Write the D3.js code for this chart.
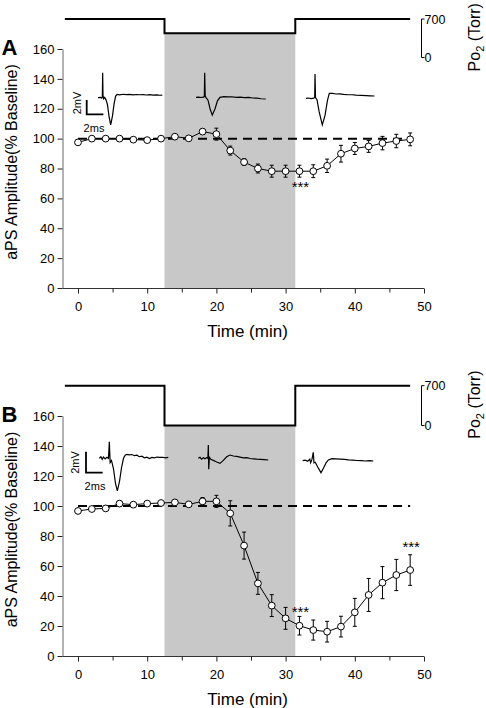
<!DOCTYPE html>
<html><head><meta charset="utf-8">
<script src="https://cdn.jsdelivr.net/npm/d3@7"></script>
<style>
body{margin:0;background:#fff}
svg{display:block}
text{font-family:"Liberation Sans",Arial,Helvetica,sans-serif;fill:#000}
</style>
</head><body>
<svg id="chart" width="486" height="708"></svg>
<script>
// ---------- data ----------
const times = [0,2,4,6,8,10,12,14,16,18,20,22,24,26,28,30,32,34,36,38,40,42,44,46,48];
const ampA  = [97.5,100,100,100,99.3,99,100,101.3,100.2,104.7,103,92,84.3,80,78.2,78.2,78.2,78.2,81.8,89.9,93.4,94.8,97,98.4,99.5];
const errA  = [1,1,1,1,1,1,1,1,1,1.5,4,3,2.2,3,4,4,4,4.3,4.5,5.6,4,4,4.5,4.5,4.3];
const ampB  = [96.7,98,98.4,101.6,100.9,101.6,102,102.4,101.1,103.1,103.1,95.1,73.6,48.4,33.6,25.1,20.2,17.3,16.2,19.6,29.1,40.7,48.9,54,57.3];
const errB  = [1,1,1,1,1,1,1,1,1,2.5,4,8.4,9,7.3,7.3,7.3,6.2,6.7,6.9,6.9,9.3,11,10.7,10.4,10.2];
const xTicks = [0,10,20,30,40,50];
const xMinorTicks = [5,15,25,35,45];
const yTicks = [0,20,40,60,80,100,120,140,160];
const po2Ticks = [0,700];
const hypoxia = [12.5,31.4];
const po2A = [[-1.9,700],[12.5,440],[31.4,700],[48,700]];
const po2B = [[-1.9,700],[12.5,0],[31.4,700],[48,700]];
const baselineLine = [[0,100],[48,100]];
const sigA = [32];
const sigB = [32,48];
// example field-potential traces: [ms, mV]
const traceA1 = [[0,0],[0.3,0.05],[0.45,-0.05],[0.52,0.1],[0.56,3.5],[0.6,0.3],[0.68,-0.15],[0.8,0.05],[0.96,-0.3],[1.14,-1.0],[1.32,-2.6],[1.52,-3.8],[1.74,-2.5],[1.92,-0.9],[2.1,0.2],[2.28,0.45],[2.6,0.4],[3.0,0.48],[3.4,0.42],[3.8,0.46],[4.2,0.4],[4.6,0.45],[5.0,0.41],[5.4,0.44],[5.8,0.38],[6.2,0.42],[6.6,0.36],[7.0,0.4],[7.4,0.34],[7.7,0.37]];
const traceA2 = [[0,0],[0.3,0.03],[0.6,-0.03],[0.9,0.02],[1.0,0.1],[1.04,3.44],[1.1,0.2],[1.2,-0.05],[1.44,-0.4],[1.68,-1.6],[1.95,-2.5],[2.28,-1.6],[2.57,-0.5],[2.87,0.0],[3.35,0.1],[3.8,0.05],[4.3,0.08],[4.8,0.0],[5.3,0.03],[5.8,-0.05],[6.3,-0.02],[6.8,-0.1],[7.3,-0.12],[7.8,-0.2],[8.35,-0.24]];
const traceA3 = [[0,0],[0.3,0.04],[0.6,-0.04],[0.9,0.02],[1.04,0.1],[1.08,3.4],[1.14,0.1],[1.32,-0.2],[1.56,-1.8],[1.95,-3.73],[2.28,-2.4],[2.57,-0.3],[2.79,0.7],[3.2,0.68],[3.6,0.6],[4.0,0.62],[4.5,0.55],[5.0,0.5],[5.5,0.5],[6.0,0.45],[6.6,0.42],[7.2,0.38],[7.7,0.35],[8.2,0.32]];
const traceB1 = [[0,0],[0.2,0.15],[0.35,-0.1],[0.5,0.12],[0.7,-0.05],[0.92,0.1],[1.1,0.0],[1.2,1.58],[1.3,-0.4],[1.46,-0.2],[1.7,-1.0],[1.94,-2.4],[2.16,-3.1],[2.42,-2.2],[2.66,-0.9],[2.9,0.0],[3.1,0.3],[3.28,0.38],[3.6,0.32],[3.9,0.36],[4.2,0.25],[4.5,0.3],[4.8,0.15],[5.1,0.2],[5.4,0.05],[5.7,0.1],[6.0,-0.02],[6.3,0.08],[6.6,0.05],[6.9,0.12],[7.2,0.08],[7.6,0.1],[7.9,0.04],[8.26,0.08]];
const traceB2 = [[0,0],[0.2,0.1],[0.4,-0.08],[0.6,0.06],[0.8,-0.05],[1.0,0.05],[1.15,0.0],[1.2,1.27],[1.25,-1.05],[1.33,0.1],[1.5,-0.1],[1.8,-0.2],[2.2,-0.35],[2.6,-0.48],[3.0,-0.2],[3.4,0.15],[3.8,0.31],[4.2,0.22],[4.6,0.18],[5.0,0.12],[5.4,0.05],[5.8,0.06],[6.2,-0.02],[6.6,-0.05],[7.0,-0.08],[7.4,-0.1],[7.9,-0.12],[8.38,-0.16]];
const traceB3 = [[0,0],[0.3,0.05],[0.6,-0.05],[0.85,0.15],[0.95,-0.2],[1.1,0.1],[1.27,0.8],[1.35,-0.2],[1.5,-0.15],[1.8,-0.6],[2.19,-1.14],[2.5,-0.7],[2.8,-0.2],[3.07,0.07],[3.5,0.2],[4.0,0.18],[4.5,0.15],[5.0,0.12],[5.5,0.08],[6.0,0.05],[6.5,0.02],[7.0,0.0],[7.5,-0.03],[8.0,0.0],[8.45,-0.03]];

// ---------- layout ----------
const panels = [
  {label:"A", amp:ampA, err:errA, po2:po2A, sig:sigA, sigDy:{32:20.4},
   y0:288, y160:49, po0:57.5, po700:19, mVpx:7.15,
   traces:[traceA1,traceA2,traceA3], origins:[[98,97.7],[196,97.3],[306,98.3]],
   bar:[86.7,100], mvLab:[80.5,103], msLab:[94,131.5]},
  {label:"B", amp:ampB, err:errB, po2:po2B, sig:sigB, sigDy:{32:-9,48:-18.4},
   y0:656, y160:416, po0:425.5, po700:385.7, mVpx:10.5,
   traces:[traceB1,traceB2,traceB3], origins:[[99.3,458.3],[198.3,458.3],[302.7,460.7]],
   bar:[86,451.7], mvLab:[78.5,462.5], msLab:[95,490]}
];

const svg = d3.select("#chart");
const x = d3.scaleLinear().domain([0,50]).range([78,424]);
const msPx = 8.35;

panels.forEach(p => {
  const g = svg.append("g");
  const y = d3.scaleLinear().domain([0,160]).range([p.y0,p.y160]);
  const po = d3.scaleLinear().domain([0,700]).range([p.po0,p.po700]);
  const lowPo = p.po2[1][1];

  // hypoxia shading
  g.append("rect")
    .attr("x", x(hypoxia[0])).attr("width", x(hypoxia[1]) - x(hypoxia[0]))
    .attr("y", po(lowPo)).attr("height", y(0) - po(lowPo))
    .attr("fill", "#c8c8c8");

  // Po2 trace
  g.append("path")
    .datum(p.po2)
    .attr("d", d3.line().x(d => x(d[0])).y(d => po(d[1])).curve(d3.curveStepAfter))
    .attr("fill","none").attr("stroke","#000").attr("stroke-width",2);

  // Po2 scale bracket
  const bx = 421.5;
  g.append("path")
    .attr("d", `M${bx+3},${po(700)}H${bx}V${po(0)}H${bx+3}`)
    .attr("fill","none").attr("stroke","#000").attr("stroke-width",1);
  po2Ticks.forEach(v => {
    g.append("text").attr("x", bx+3).attr("y", po(v)+4.5)
      .attr("font-size", 12.5).text(v);
  });
  const pl = g.append("text")
    .attr("transform", `translate(480,${(po(0)+po(700))/2 - 1}) rotate(-90)`)
    .attr("text-anchor","middle").attr("font-size",16);
  pl.append("tspan").text("Po");
  pl.append("tspan").attr("font-size",11).attr("dy",4).text("2");
  pl.append("tspan").attr("dy",-4).text(" (Torr)");

  // y axis
  const ya = g.append("g").attr("transform","translate(62.5,0)")
    .call(d3.axisLeft(y).tickValues(yTicks).tickSize(5).tickSizeOuter(0));
  ya.select(".domain").attr("stroke","#666");
  ya.selectAll(".tick line").attr("stroke","#222");
  ya.selectAll(".tick text").attr("font-size",13).attr("font-family",'"Liberation Sans",Arial,sans-serif').attr("x",-8);

  // x axis
  g.append("line").attr("x1",62.5).attr("x2",x(50)).attr("y1",y(0)+0.5).attr("y2",y(0)+0.5)
    .attr("stroke","#333");
  const xa = g.append("g").attr("transform",`translate(0,${y(0)+0.5})`)
    .call(d3.axisBottom(x).tickValues(xTicks).tickSize(5).tickSizeOuter(0));
  xa.select(".domain").remove();
  xa.selectAll(".tick line").attr("stroke","#222");
  xa.selectAll(".tick text").attr("font-size",13).attr("font-family",'"Liberation Sans",Arial,sans-serif').attr("y",13).attr("dy","0.71em");
  const xm = g.append("g").attr("transform",`translate(0,${y(0)+0.5})`)
    .call(d3.axisBottom(x).tickValues(xMinorTicks).tickSize(4).tickFormat(""));
  xm.select(".domain").remove();
  xm.selectAll(".tick line").attr("stroke","#222");

  // axis titles
  g.append("text").attr("x",247.5).attr("y",y(0)+48.5).attr("text-anchor","middle")
    .attr("font-size",17).text("Time (min)");
  g.append("text").attr("transform",`translate(16.5,${(y(0)+y(160))/2 - 6.5}) rotate(-90)`)
    .attr("text-anchor","middle").attr("font-size",16).text("aPS Amplitude(% Baseline)");
  g.append("text").attr("x",1.5).attr("y",y(160)+5.5).attr("font-size",22)
    .attr("font-weight","bold").text(p.label);

  // baseline dashed line
  g.append("path").datum(baselineLine)
    .attr("d", d3.line().x(d => x(d[0])).y(d => y(d[1])))
    .attr("stroke","#000").attr("stroke-width",2).attr("stroke-dasharray","9,6").attr("fill","none");

  const pts = times.map((t,i) => ({t, v:p.amp[i], e:p.err[i]}));
  // connecting line
  g.append("path").datum(pts)
    .attr("d", d3.line().x(d => x(d.t)).y(d => y(d.v)))
    .attr("fill","none").attr("stroke","#000").attr("stroke-width",1);
  // error bars
  const eb = g.append("g").attr("stroke","#000").attr("stroke-width",1);
  pts.forEach(d => {
    eb.append("line").attr("x1",x(d.t)).attr("x2",x(d.t)).attr("y1",y(d.v-d.e)).attr("y2",y(d.v+d.e));
    eb.append("line").attr("x1",x(d.t)-2).attr("x2",x(d.t)+2).attr("y1",y(d.v+d.e)).attr("y2",y(d.v+d.e));
    eb.append("line").attr("x1",x(d.t)-2).attr("x2",x(d.t)+2).attr("y1",y(d.v-d.e)).attr("y2",y(d.v-d.e));
  });
  // markers
  g.selectAll("circle.pt").data(pts).enter().append("circle")
    .attr("cx", d => x(d.t)).attr("cy", d => y(d.v)).attr("r",3.4)
    .attr("fill","#fff").attr("stroke","#000").attr("stroke-width",1);

  // significance
  p.sig.forEach(t => {
    const i = times.indexOf(t);
    g.append("text").attr("x", x(t)+1).attr("y", y(p.amp[i]) + p.sigDy[t])
      .attr("text-anchor","middle").attr("font-size",15).text("***");
  });

  // example traces
  const tx = d3.scaleLinear().domain([0,1]).range([0,msPx]);
  const ty = d3.scaleLinear().domain([0,1]).range([0,-p.mVpx]);
  p.traces.forEach((tr,k) => {
    g.append("path").datum(tr)
      .attr("transform",`translate(${p.origins[k][0]},${p.origins[k][1]})`)
      .attr("d", d3.line().x(d => tx(d[0])).y(d => ty(d[1])))
      .attr("fill","none").attr("stroke","#000").attr("stroke-width",1.2);
  });
  // scale bar 2 mV / 2 ms
  g.append("path")
    .attr("d", `M${p.bar[0]},${p.bar[1]}V${p.bar[1] - ty(2)}H${p.bar[0] + tx(2)}`)
    .attr("fill","none").attr("stroke","#000").attr("stroke-width",1.8);
  g.append("text").attr("transform",`translate(${p.mvLab[0]},${p.mvLab[1]}) rotate(-90)`)
    .attr("text-anchor","middle").attr("font-size",11).text("2mV");
  g.append("text").attr("x",p.msLab[0]).attr("y",p.msLab[1])
    .attr("text-anchor","middle").attr("font-size",11).text("2ms");
});
</script>
</body></html>
